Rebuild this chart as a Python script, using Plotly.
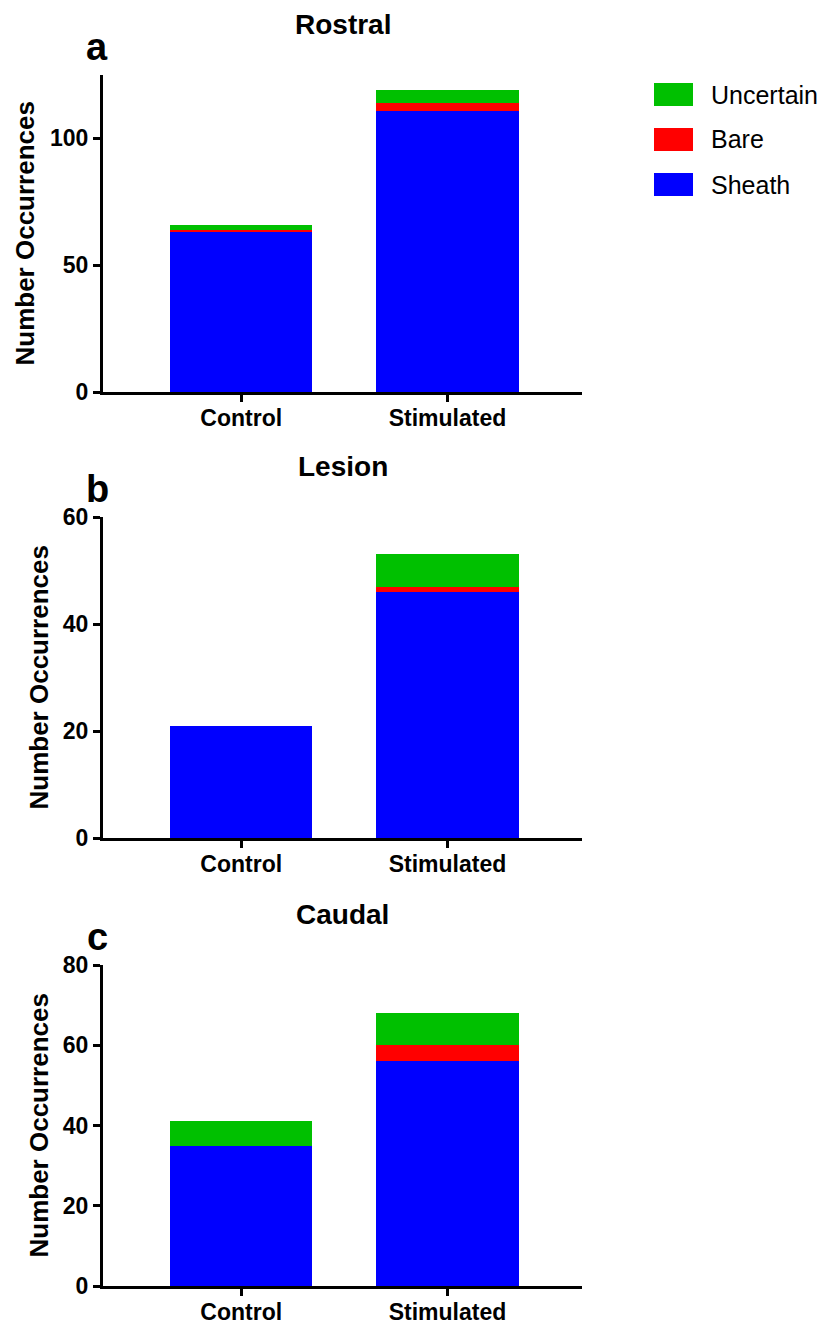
import plotly.graph_objects as go

# The page body has an 8px margin, so the figure is drawn 8px smaller and
# reference pixel coordinates are shifted by that amount.
OFF = 8
W, H = 825 - OFF, 1324 - OFF

categories = ["Control", "Stimulated"]
series_names = ["Sheath", "Bare", "Uncertain"]
series_colors = ["#0000FF", "#FF0000", "#00C000"]

panel_titles = ["Rostral", "Lesion", "Caudal"]
panel_letters = ["a", "b", "c"]

rostral_sheath = [63, 111]
rostral_bare = [1, 3]
rostral_uncertain = [2, 5]

lesion_sheath = [21, 46]
lesion_bare = [0, 1]
lesion_uncertain = [0, 6]

caudal_sheath = [35, 56]
caudal_bare = [0, 4]
caudal_uncertain = [6, 8]

y_ranges = [[0, 125], [0, 60], [0, 80]]
y_tickvals = [[0, 50, 100], [0, 20, 40, 60], [0, 20, 40, 60, 80]]

panels = [
    [rostral_sheath, rostral_bare, rostral_uncertain],
    [lesion_sheath, lesion_bare, lesion_uncertain],
    [caudal_sheath, caudal_bare, caudal_uncertain],
]

FONT = "Liberation Sans, Arial, sans-serif"


def px_x(p):
    return (p - OFF) / W


def px_y(p):
    return 1 - (p - OFF) / H


# plot area pixel boxes in reference coordinates (top, bottom)
x_left, x_right = 103, 582
y_boxes = [(75, 392), (517, 838), (965, 1286)]

fig = go.Figure()

for i, series in enumerate(panels):
    xa = "x" if i == 0 else f"x{i+1}"
    ya = "y" if i == 0 else f"y{i+1}"
    for name, vals, col in zip(series_names, series, series_colors):
        fig.add_trace(go.Bar(
            x=categories, y=vals, name=name, marker=dict(color=col, line=dict(width=0)),
            width=0.69, xaxis=xa, yaxis=ya, showlegend=False,
        ))

layout = dict(
    width=W, height=H, barmode="stack",
    paper_bgcolor="white", plot_bgcolor="white",
    margin=dict(l=0, r=0, t=0, b=0),
    font=dict(family=FONT, color="black"),
    annotations=[], shapes=[],
)

for i in range(3):
    top, bot = y_boxes[i]
    xkey = "xaxis" if i == 0 else f"xaxis{i+1}"
    ykey = "yaxis" if i == 0 else f"yaxis{i+1}"
    ya = "y" if i == 0 else f"y{i+1}"
    xa = "x" if i == 0 else f"x{i+1}"
    layout[xkey] = dict(
        domain=[px_x(x_left), px_x(x_right)], anchor=ya,
        range=[-0.67, 1.652], showline=True, linecolor="black", linewidth=3,
        ticks="outside", ticklen=7, tickwidth=3, tickcolor="black",
        ticklabelstandoff=-4,
        showgrid=False, zeroline=False, automargin=False, fixedrange=True,
        tickfont=dict(family=FONT, size=23, weight="bold", color="black"),
    )
    layout[ykey] = dict(
        domain=[px_y(bot), px_y(top)], anchor=xa,
        range=y_ranges[i], tickvals=y_tickvals[i],
        showline=True, linecolor="black", linewidth=3,
        ticks="outside", ticklen=7, tickwidth=3, tickcolor="black",
        showgrid=False, zeroline=False, automargin=False, fixedrange=True,
        tickfont=dict(family=FONT, size=23, weight="bold", color="black"),
    )
    # panel title: top edge of its text box sits 67px above the plot area
    layout["annotations"].append(dict(
        text=panel_titles[i], xref="paper", yref="paper",
        x=px_x((x_left + x_right) / 2), y=min(1.0, px_y(top - 67)),
        xanchor="center", yanchor="top", showarrow=False, borderpad=0,
        font=dict(family=FONT, size=28, weight="bold", color="black"),
    ))
    # panel letter
    layout["annotations"].append(dict(
        text=panel_letters[i], xref="paper", yref="paper",
        x=px_x(97), y=px_y(top - 28),
        xanchor="center", yanchor="middle", showarrow=False,
        font=dict(family=FONT, size=38, weight="bold", color="black"),
    ))
    # y axis title
    tx = 25 if i == 0 else 38
    layout["annotations"].append(dict(
        text="Number Occurrences", xref="paper", yref="paper",
        x=px_x(tx), y=px_y((top + bot) / 2), textangle=-90,
        xanchor="center", yanchor="middle", showarrow=False,
        font=dict(family=FONT, size=26, weight="bold", color="black"),
    ))

# legend (custom, large swatches)
legend_order = ["Uncertain", "Bare", "Sheath"]
legend_rows = [94.5, 139.5, 184.5]
for name, cy in zip(legend_order, legend_rows):
    col = series_colors[series_names.index(name)]
    layout["shapes"].append(dict(
        type="rect", xref="paper", yref="paper",
        x0=px_x(654), x1=px_x(693), y0=px_y(cy + 11.5), y1=px_y(cy - 11.5),
        fillcolor=col, line=dict(width=0),
    ))
    layout["annotations"].append(dict(
        text=name, xref="paper", yref="paper",
        x=px_x(709), y=px_y(cy), xanchor="left", yanchor="middle",
        showarrow=False, font=dict(family=FONT, size=25, color="black"),
    ))

fig.update_layout(**layout)
fig.write_html("out.html")
